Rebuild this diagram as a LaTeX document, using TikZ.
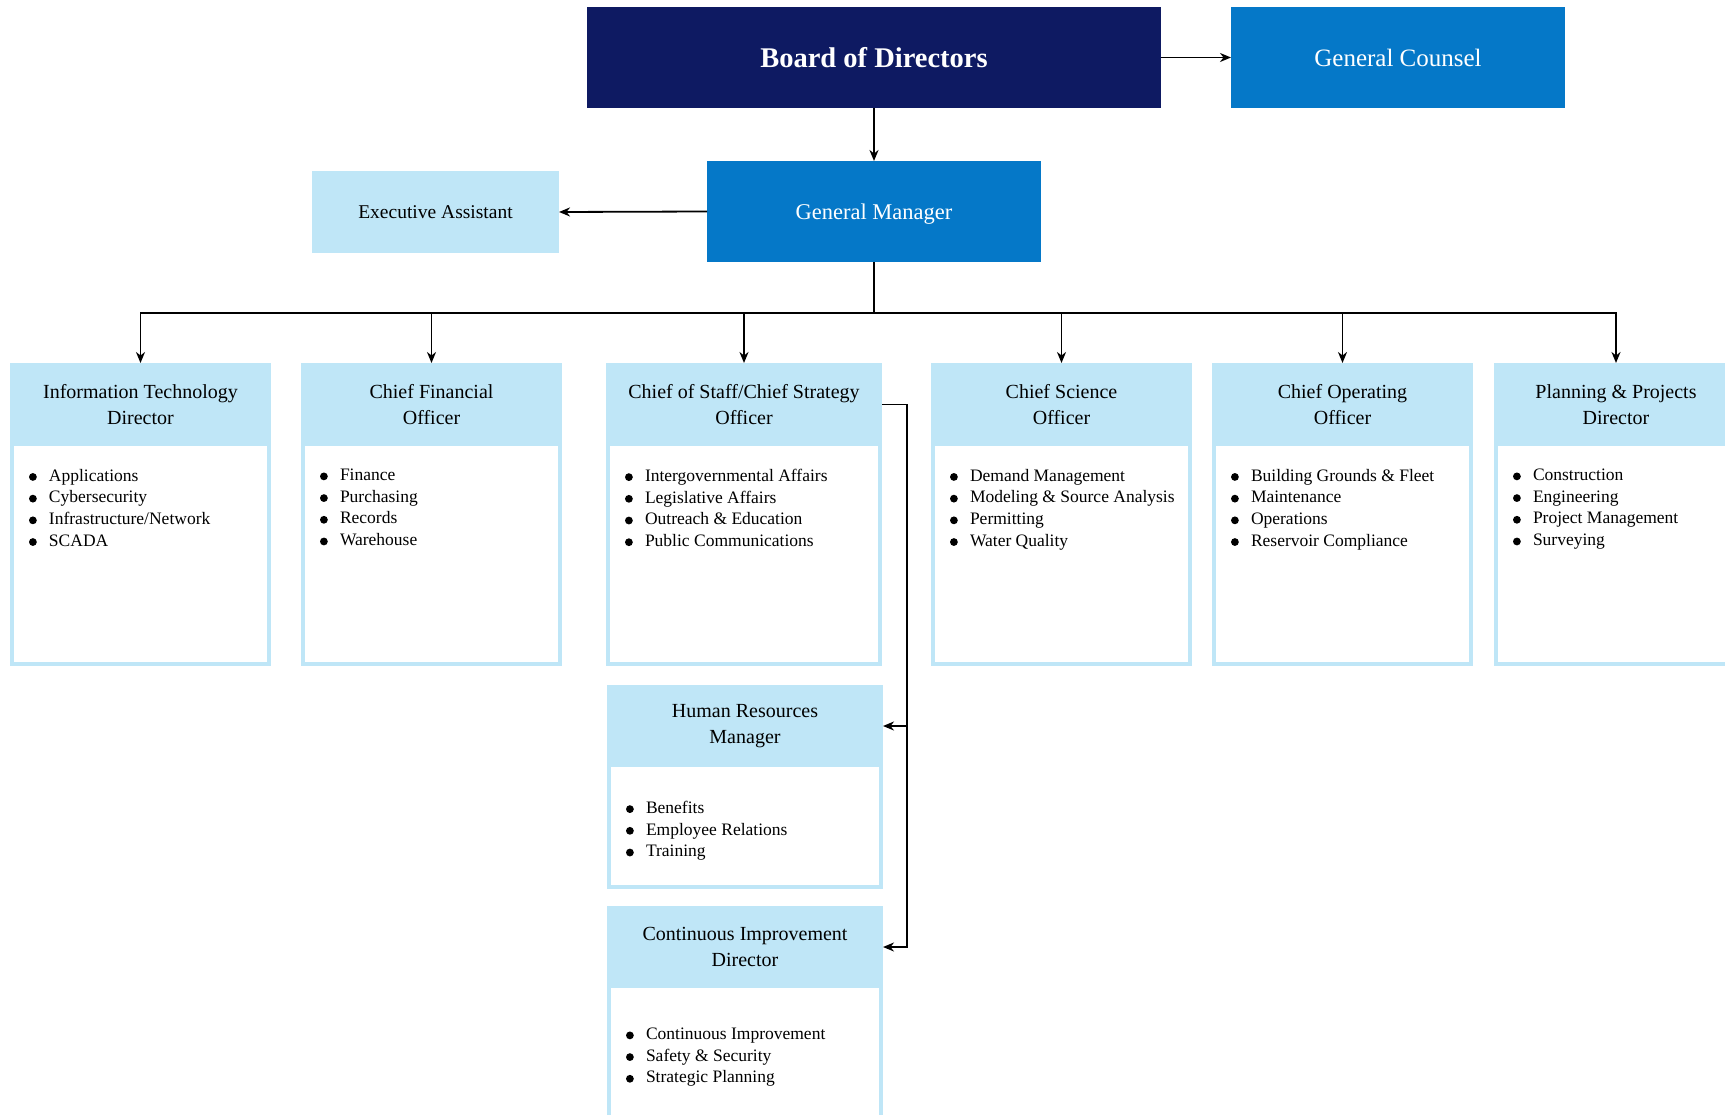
\documentclass[tikz,border=0pt]{standalone}
\usepackage{fontspec}
\setmainfont{Liberation Serif}
\usetikzlibrary{arrows.meta}
\definecolor{navy}{HTML}{0E1A62}
\definecolor{midblue}{HTML}{0578C8}
\definecolor{pale}{HTML}{BFE6F7}
\newcommand{\itm}{\makebox[20pt][l]{\tikz[baseline={(0pt,-4.2pt)}]\fill (3.9pt,0pt) circle [radius=3.9pt];}}
% name, L, T, R, B, header bottom, title, list, list offset
\newcommand{\orgunit}[9]{%
  \node[unitbody, minimum width={#4-#2-4}, minimum height={#5-#3-4}] (#1) at ({(#2+#4)/2},{(#3+#5)/2}) {};
  \node[unithead, minimum width={#4-#2}, minimum height={#6-#3}] (#1h) at ({(#2+#4)/2},{(#3+#6)/2}) {#7};
  \node[unitlist, anchor=north west] (#1l) at ({#2+19},{#6+#9}) {#8};
}
\begin{document}
\begin{tikzpicture}[x=1pt,y=-1pt,
  every node/.style={inner sep=0pt, outer sep=0pt},
  conn/.style={line width=1.8pt},
  arr/.style={conn, -{Stealth[length=11pt,width=9pt,inset=3.5pt]}},
  topbox/.style={rectangle, fill=navy, text=white, text depth=0pt},
  bluebox/.style={rectangle, fill=midblue, text=white, text depth=0pt},
  palebox/.style={rectangle, fill=pale, text=black, text depth=0pt},
  unitbody/.style={rectangle, draw=pale, line width=4pt, fill=white},
  unithead/.style={rectangle, fill=pale, align=center, font=\fontsize{20}{26}\selectfont},
  unitlist/.style={align=left, font=\fontsize{17.5}{21.7}\selectfont}]
\useasboundingbox (0,0) rectangle (1725,1115);
\clip (0,0) rectangle (1725,1115);

\node[topbox, minimum width=574, minimum height=101, font=\fontsize{28.5}{34}\selectfont\bfseries] (board) at (874,57.5) {Board of Directors};
\node[bluebox, minimum width=334, minimum height=101, font=\fontsize{25}{30}\selectfont] (gc) at (1398,57.5) {General Counsel};
\node[bluebox, minimum width=334, minimum height=101, font=\fontsize{22.5}{27}\selectfont] (gm) at (874,211.5) {General Manager};
\node[palebox, minimum width=247, minimum height=82, font=\fontsize{19.5}{24}\selectfont] (ea) at (435.5,212) {Executive Assistant};

\orgunit{it}{10}{363}{271}{666}{446}{Information Technology\\Director}{\itm Applications\\\itm Cybersecurity\\\itm Infrastructure/Network\\\itm SCADA}{23}
\orgunit{cfo}{301}{363}{562}{666}{446}{Chief Financial\\Officer}{\itm Finance\\\itm Purchasing\\\itm Records\\\itm Warehouse}{23}
\orgunit{cos}{606}{363}{882}{666}{446}{Chief of Staff/Chief Strategy\\Officer}{\itm Intergovernmental Affairs\\\itm Legislative Affairs\\\itm Outreach \& Education\\\itm Public Communications}{23}
\orgunit{cso}{931}{363}{1192}{666}{446}{Chief Science\\Officer}{\itm Demand Management\\\itm Modeling \& Source Analysis\\\itm Permitting\\\itm Water Quality}{23}
\orgunit{coo}{1212}{363}{1473}{666}{446}{Chief Operating\\Officer}{\itm Building Grounds \& Fleet\\\itm Maintenance\\\itm Operations\\\itm Reservoir Compliance}{23}
\orgunit{pp}{1494}{363}{1738}{666}{446}{Planning \& Projects\\Director}{\itm Construction\\\itm Engineering\\\itm Project Management\\\itm Surveying}{23}
\orgunit{hr}{607}{685}{883}{889}{767}{Human Resources\\Manager}{\itm Benefits\\\itm Employee Relations\\\itm Training}{34}
\orgunit{ci}{607}{906}{883}{1160}{988}{Continuous Improvement\\Director}{\itm Continuous Improvement\\\itm Safety \& Security\\\itm Strategic Planning}{40}

\draw[arr] (board.south) -- (gm.north);
\draw[arr] (board.east) -- (gc.west);
\draw[arr] (gm.west) -- (ea.east);
\coordinate (bus) at (874,313);
\draw[conn] (gm.south) -- (bus);
\foreach \uu in {it,cfo,cos,cso,coo,pp} \draw[arr] (bus) -| (\uu h.north);
\draw[arr] (cosh.east) -- ++(25,0) |- (hrh.east);
\draw[arr] (cosh.east) -- ++(25,0) |- (cih.east);
\end{tikzpicture}
\end{document}
